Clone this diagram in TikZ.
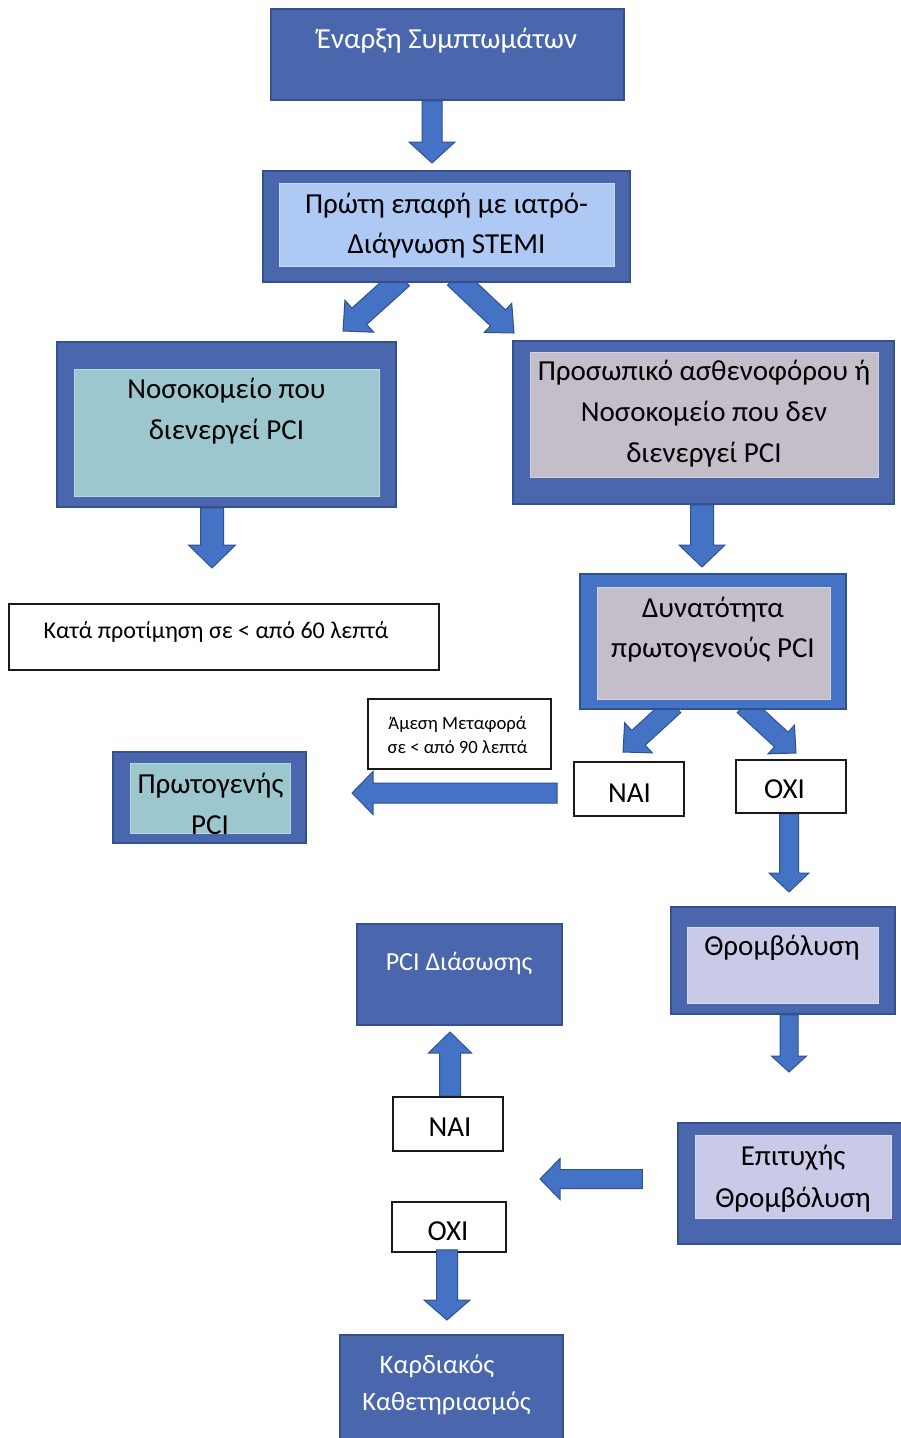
\documentclass[tikz,border=0pt]{standalone}
\usepackage{fontspec}
\setmainfont{Carlito}
\usetikzlibrary{calc,backgrounds}
\definecolor{darkc}{HTML}{4A67AE}
\definecolor{bordc}{HTML}{34508F}
\definecolor{brightc}{HTML}{4472C4}
\definecolor{arrowbd}{HTML}{2F528F}
\definecolor{lblue}{HTML}{ADC9F4}
\definecolor{tealc}{HTML}{9DC7CE}
\definecolor{grayl}{HTML}{C4BDCA}
\definecolor{lav}{HTML}{C9CAE8}
\newcommand\lines[1]{\begin{tabular}[t]{@{}c@{}}#1\end{tabular}}
\newcommand\boxat[6]{\node[#2, minimum width=#5pt, minimum height=#6pt] (#1) at (#3,#4) {};}
\newcommand\blockarrow[5]{%
  \coordinate (bahead) at ($(#2)!#5pt!(#1)$);
  \draw[blockarr] ($(#1)!#3pt!90:(#2)$) -- ($(bahead)!#3pt!90:(#2)$) -- ($(bahead)!#4pt!90:(#2)$) -- (#2)
     -- ($(bahead)!#4pt!-90:(#2)$) -- ($(bahead)!#3pt!-90:(#2)$) -- ($(#1)!#3pt!-90:(#2)$) -- cycle;}
\tikzset{
  outerbox/.style={draw=bordc, line width=1.5pt, fill=darkc, inner sep=0pt},
  brightbox/.style={draw=arrowbd, line width=1.5pt, fill=brightc, inner sep=0pt},
  innerbox/.style={draw=white!30!#1, line width=0.8pt, fill=#1, inner sep=0pt},
  wbox/.style={draw=black!90, line width=1.6pt, fill=white, inner sep=0pt},
  txt/.style={anchor=base, inner sep=0pt, font=\fontsize{29}{41}\selectfont},
  blockarr/.style={fill=brightc, draw=arrowbd, line width=1pt, line join=miter},
}
\begin{document}
\begin{tikzpicture}[x=1pt,y=-1pt]
\useasboundingbox (0,0) rectangle (900,1438);
% boxes
\boxat{b1}{outerbox}{447.5}{54.5}{353}{91}
\node[txt, text=white] (b1t) at (447,48) {Έναρξη Συμπτωμάτων};

\boxat{b2o}{outerbox}{446.5}{226.5}{367}{111}
\boxat{b2i}{innerbox=lblue}{446.5}{224.5}{335}{83}
\node[txt, font=\fontsize{29}{40}\selectfont] (b2t) at (446.5,213) {\lines{Πρώτη επαφή με ιατρό-\\Διάγνωση STEMI}};

\boxat{b3o}{outerbox}{226.5}{424.5}{339}{165}
\boxat{b3i}{innerbox=tealc}{226.5}{432.5}{305}{127}
\node[txt] (b3t) at (226.5,398) {\lines{Νοσοκομείο που\\διενεργεί PCI}};

\boxat{kata}{wbox}{224}{637}{430}{66}
\node[txt, font=\fontsize{24}{28}\selectfont] (katat) at (216,638) {Κατά προτίμηση σε < από 60 λεπτά};

\boxat{b4o}{outerbox}{703.5}{422.5}{381}{163}
\boxat{b4i}{innerbox=grayl}{704}{414.5}{348}{125}
\node[txt] (b4t) at (704,380) {\lines{Προσωπικό ασθενοφόρου ή\\Νοσοκομείο που δεν\\διενεργεί PCI}};

\boxat{b5o}{brightbox}{713}{641.5}{266}{135}
\boxat{b5i}{innerbox=grayl}{713.5}{643}{233}{112}
\node[txt, font=\fontsize{29}{40}\selectfont] (b5t) at (713,617) {\lines{Δυνατότητα\\πρωτογενούς PCI}};

\boxat{amesi}{wbox}{459.5}{734}{183}{70}
\node[txt, font=\fontsize{18.7}{24}\selectfont] (amesit) at (457.5,729) {\lines{Άμεση Μεταφορά\\σε < από 90 λεπτά}};

\boxat{proto}{outerbox}{209.5}{797.5}{193}{91}
\boxat{proti}{innerbox=tealc}{210}{798}{160}{70}
\node[txt] (prott) at (210.5,793) {Πρωτογενής};
\begin{scope}
  \clip (proti.north west) rectangle (proti.south east);
  \node[txt] (prott2) at (210,834) {PCI};
\end{scope}

\boxat{nai1}{wbox}{629}{789}{110}{54}
\node[txt] (nai1t) at (629.5,802) {ΝΑΙ};
\boxat{oxi1}{wbox}{791}{786.5}{110}{53}
\node[txt] (oxi1t) at (784.5,798) {ΟΧΙ};

\boxat{thro}{outerbox}{783}{960.5}{224}{107}
\boxat{thri}{innerbox=lav}{782.5}{965}{191}{76}
\node[txt] (thrt) at (782,955) {Θρομβόλυση};

\boxat{pcid}{outerbox}{459.5}{974.5}{205}{101}
\node[txt, text=white, font=\fontsize{26}{36}\selectfont] (pcidt) at (459,970) {PCI Διάσωσης};

\boxat{nai2}{wbox}{448}{1124}{110}{54}
\node[txt] (nai2t) at (450,1136) {ΝΑΙ};
\boxat{oxi2}{wbox}{449}{1227}{114}{50}
\node[txt] (oxi2t) at (448,1240) {ΟΧΙ};

\boxat{epito}{outerbox}{794}{1183.5}{232}{121}
\boxat{epiti}{innerbox=lav}{793}{1176.5}{196}{83}
\node[txt, font=\fontsize{29}{42}\selectfont] (epitt) at (793,1165) {\lines{Επιτυχής\\Θρομβόλυση}};

\boxat{kard}{outerbox}{451.5}{1392.5}{223}{115}
\node[txt, text=white, font=\fontsize{26.5}{37}\selectfont] (kardt) at (446.5,1373) {\lines{Καρδιακός\kern19pt\\Καθετηριασμός}};

% connector coordinates
\coordinate (t1) at (432,163);   \coordinate (s1) at (b1.south -| t1);
\coordinate (s2) at ($(b2o.south)+(-44.5,-5)$); \coordinate (t2) at (343,331);
\coordinate (s2r) at ($(b2o.south)+(8.5,-5.5)$); \coordinate (t2r) at (514,333);
\coordinate (t3) at (212,568);   \coordinate (s3) at (b3o.south -| t3);
\coordinate (t4) at (702,567);   \coordinate (s4) at (b4o.south -| t4);
\coordinate (s5) at ($(b5o.south)+(-39,-4.5)$); \coordinate (t5) at (623,752);
\coordinate (s5r) at ($(b5o.south)+(31,-4.5)$); \coordinate (t5r) at (796,753);
\coordinate (s6) at ($(nai1.west)+(-16,4)$); \coordinate (t6) at (352,793);
\coordinate (t7) at (789,892);   \coordinate (s7) at (oxi1.south -| t7);
\coordinate (t8) at (789,1072);  \coordinate (s8) at (thro.south -| t8);
\coordinate (s9) at ($(epito.west)+(-35,-4.5)$); \coordinate (t9) at (540,1179);
\coordinate (t10) at (450,1032); \coordinate (s10) at (nai2.north -| t10);
\coordinate (t11) at (447,1320); \coordinate (o2b) at (oxi2.south -| t11);
\coordinate (s11) at ($(o2b)+(0,-3)$);

\begin{scope}[on background layer]
  \fill[white] (0,0) rectangle (900,1438);
  \blockarrow{s1}{t1}{10}{23}{21}
  \blockarrow{s2}{t2}{11}{21.5}{22}
  \blockarrow{s2r}{t2r}{11}{20}{22}
  \blockarrow{s3}{t3}{11.5}{23.5}{23}
  \blockarrow{s4}{t4}{11.5}{23}{22}
  \blockarrow{s5}{t5}{10}{20.5}{21}
  \blockarrow{s5r}{t5r}{10}{19.5}{20}
  \blockarrow{s6}{t6}{10}{21.5}{21}
  \blockarrow{s7}{t7}{9.5}{20}{19}
  \blockarrow{s8}{t8}{9}{17.5}{16}
  \blockarrow{s9}{t9}{9.5}{20.5}{20}
  \blockarrow{s10}{t10}{10.5}{21.5}{21}
\end{scope}
\blockarrow{s11}{t11}{10.5}{23}{20}
\end{tikzpicture}
\end{document}
